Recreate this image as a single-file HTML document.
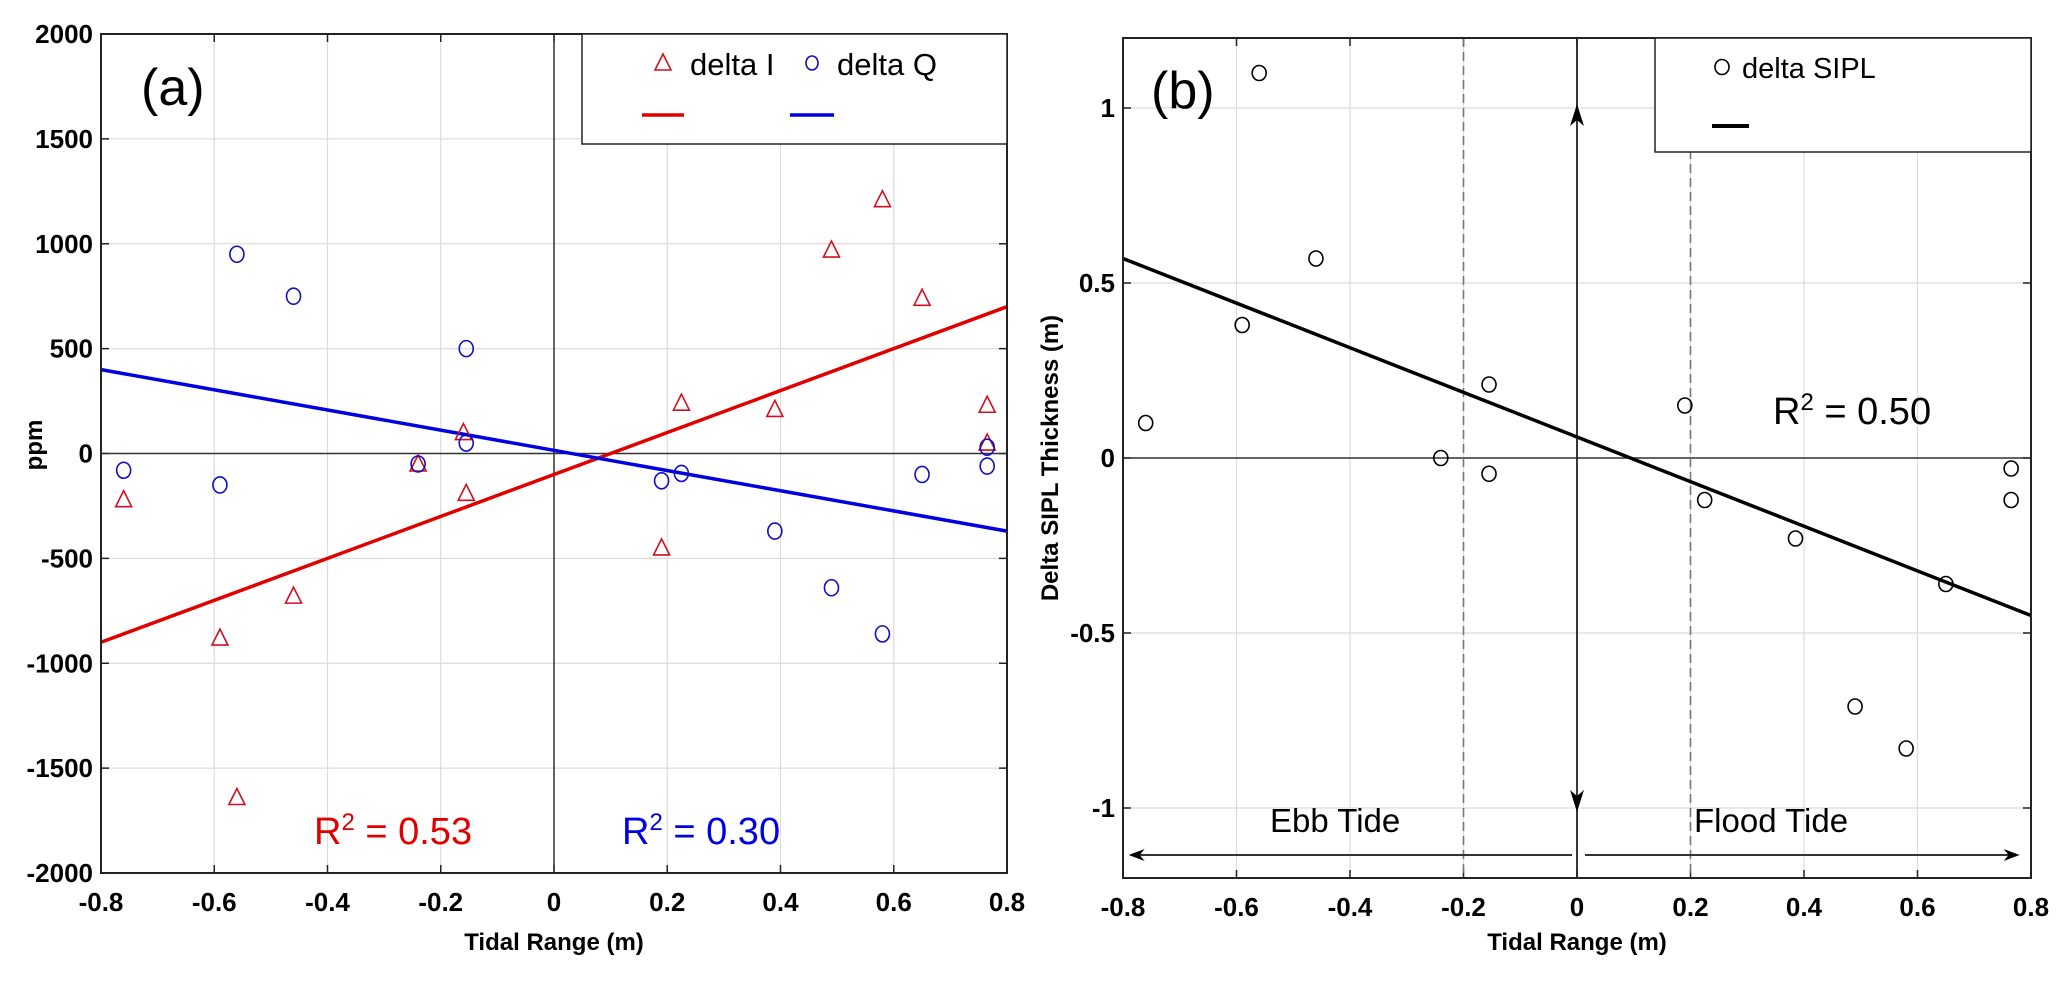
<!DOCTYPE html>
<html><head><meta charset="utf-8"><style>
html,body{margin:0;padding:0;background:#fff;}
svg{display:block;font-family:"Liberation Sans",Arial,sans-serif;}
.tk{font-size:26px;font-weight:bold;fill:#000;}
.al{font-size:24px;font-weight:bold;fill:#000;}
</style></head><body>
<svg id="c" width="2067" height="982" viewBox="0 0 2067 982" xmlns="http://www.w3.org/2000/svg"></svg>
<script>
// ---- data ----
const xTicks = [-0.8,-0.6,-0.4,-0.2,0,0.2,0.4,0.6,0.8];
const xTickLabels = ["-0.8","-0.6","-0.4","-0.2","0","0.2","0.4","0.6","0.8"];
const aYTicks = [-2000,-1500,-1000,-500,0,500,1000,1500,2000];
const bYTicks = [-1,-0.5,0,0.5,1];
const bYTickLabels = ["-1","-0.5","0","0.5","1"];
const tidalX = [-0.76,-0.59,-0.56,-0.46,-0.24,-0.16,-0.155,0.19,0.225,0.39,0.49,0.58,0.65,0.765,0.765];
const deltaI = [-220,-880,-1640,-680,-50,100,-190,-450,240,210,970,1210,740,230,50];
const deltaQX = [-0.76,-0.59,-0.56,-0.46,-0.24,-0.155,-0.155,0.19,0.225,0.39,0.49,0.58,0.65,0.765,0.765];
const deltaQ = [-80,-150,950,750,-50,500,50,-130,-95,-370,-640,-860,-100,30,-60];
const fitIX = [-0.8,0.8]; const fitIY = [-900,700];
const fitQX = [-0.8,0.8]; const fitQY = [400,-370];
const sipX = [-0.76,-0.59,-0.56,-0.46,-0.24,-0.155,-0.155,0.19,0.225,0.385,0.49,0.58,0.65,0.765,0.765];
const sipY = [0.10,0.38,1.10,0.57,0.0,0.21,-0.045,0.15,-0.12,-0.23,-0.71,-0.83,-0.36,-0.03,-0.12];
const fitSX = [-0.8,0.8]; const fitSY = [0.57,-0.45];

const NS="http://www.w3.org/2000/svg";
const svg=document.getElementById('c');
function mk(tag,attrs,parent,text){const e=document.createElementNS(NS,tag);for(const k in attrs)e.setAttribute(k,attrs[k]);if(text!==undefined)e.textContent=text;(parent||svg).appendChild(e);return e;}

// axis functions
const A={l:101,r:1007,t:34,b:873,x0:-0.8,x1:0.8,y0:-2000,y1:2000};
const B={l:1123,r:2031,t:38,b:878,x0:-0.8,x1:0.8,y0:-1.2,y1:1.2};
function sx(P,v){return P.l+(v-P.x0)/(P.x1-P.x0)*(P.r-P.l);}
function sy(P,v){return P.b-(v-P.y0)/(P.y1-P.y0)*(P.b-P.t);}

function frame(P,yt,ytl,name){
  const g=mk('g',{});
  
  
  xTicks.forEach((v,i)=>{const x=sx(P,v);
    const gl=mk('line',{x1:x,y1:P.t,x2:x,y2:P.b,stroke:'#dcdcdc','stroke-width':1.2},g);
    
    mk('line',{x1:x,y1:P.b,x2:x,y2:P.b-8,stroke:'#222','stroke-width':1.5},g);
    mk('line',{x1:x,y1:P.t,x2:x,y2:P.t+8,stroke:'#222','stroke-width':1.5},g);
    const t=mk('text',{x:x,y:P.b+38,'text-anchor':'middle',class:'tk'},g,xTickLabels[i]);
    
  });
  yt.forEach((v,i)=>{const y=sy(P,v);
    const gl=mk('line',{x1:P.l,y1:y,x2:P.r,y2:y,stroke:'#dcdcdc','stroke-width':1.2},g);
    
    mk('line',{x1:P.l,y1:y,x2:P.l+8,y2:y,stroke:'#222','stroke-width':1.5},g);
    mk('line',{x1:P.r,y1:y,x2:P.r-8,y2:y,stroke:'#222','stroke-width':1.5},g);
    const t=mk('text',{x:P.l-8,y:y+9,'text-anchor':'end',class:'tk'},g,ytl[i]);
    
  });
  return g;
}
function border(P,name){const r=mk('rect',{x:P.l,y:P.t,width:P.r-P.l,height:P.b-P.t,fill:'none',stroke:'#222','stroke-width':2});
  }

// ---------- Panel A ----------
frame(A,aYTicks,aYTicks.map(String),'panel-a');
let z=mk('line',{x1:A.l,y1:sy(A,0),x2:A.r,y2:sy(A,0),stroke:'#333','stroke-width':1.5});

z=mk('line',{x1:sx(A,0),y1:A.t,x2:sx(A,0),y2:A.b,stroke:'#333','stroke-width':1.5});

let ln=mk('line',{x1:sx(A,fitIX[0]),y1:sy(A,fitIY[0]),x2:sx(A,fitIX[1]),y2:sy(A,fitIY[1]),stroke:'#e00000','stroke-width':3.5});

ln=mk('line',{x1:sx(A,fitQX[0]),y1:sy(A,fitQY[0]),x2:sx(A,fitQX[1]),y2:sy(A,fitQY[1]),stroke:'#0000e0','stroke-width':3.5});

function tri(x,y,c){return mk('polygon',{points:`${x},${y-9} ${x-8},${y+7} ${x+8},${y+7}`,fill:'none',stroke:c,'stroke-width':1.6});}
tidalX.forEach((v,i)=>{const p=tri(sx(A,v),sy(A,deltaI[i]),'#d01020');
  });
deltaQX.forEach((v,i)=>{const p=mk('ellipse',{cx:sx(A,v),cy:sy(A,deltaQ[i]),rx:7,ry:8,fill:'none',stroke:'#1010c0','stroke-width':1.6});
  });
border(A,'panel-a');
// legend a
let lg=mk('g',{});
mk('rect',{x:582,y:34,width:425,height:110,fill:'#fff',stroke:'#222','stroke-width':1.5},lg);
tri(663,63,'#d01020');
mk('text',{x:690,y:75,'font-size':31,fill:'#000'},lg,'delta I');
mk('ellipse',{cx:812,cy:63,rx:6,ry:7,fill:'none',stroke:'#1010c0','stroke-width':1.6},lg);
mk('text',{x:837,y:75,'font-size':31,fill:'#000'},lg,'delta Q');
mk('line',{x1:642,y1:115,x2:684,y2:115,stroke:'#e00000','stroke-width':3.5},lg);
mk('line',{x1:790,y1:115,x2:834,y2:115,stroke:'#0000e0','stroke-width':3.5},lg);
let t=mk('text',{x:141,y:105,'font-size':52,fill:'#000'},null,'(a)');

t=mk('text',{x:314,y:844,'font-size':38,fill:'#e00000'},null);
t.innerHTML='R<tspan dy="-14" font-size="24">2</tspan><tspan dy="14"> = 0.53</tspan>';

t=mk('text',{x:622,y:844,'font-size':38,fill:'#0000e0'},null);
t.innerHTML='R<tspan dy="-14" font-size="24">2</tspan><tspan dy="14"> = 0.30</tspan>';

t=mk('text',{x:554,y:950,'text-anchor':'middle',class:'al'},null,'Tidal Range (m)');

t=mk('text',{x:0,y:0,'text-anchor':'middle',class:'al',transform:'translate(42,445) rotate(-90)'},null,'ppm');


// ---------- Panel B ----------
frame(B,bYTicks,bYTickLabels,'panel-b');
z=mk('line',{x1:B.l,y1:sy(B,0),x2:B.r,y2:sy(B,0),stroke:'#333','stroke-width':1.5});

[-0.2,0.2].forEach(v=>{const d=mk('line',{x1:sx(B,v),y1:B.t,x2:sx(B,v),y2:B.b,stroke:'#777','stroke-width':1.6,'stroke-dasharray':'9,5'});
  });
const cx0=sx(B,0);
z=mk('line',{x1:cx0,y1:B.t,x2:cx0,y2:B.b,stroke:'#222','stroke-width':1.8});

let yu=sy(B,1), yd=sy(B,-1);
mk('polygon',{points:`${cx0},${yu-4} ${cx0-7},${yu+18} ${cx0},${yu+12} ${cx0+7},${yu+18}`,fill:'#000'});
mk('polygon',{points:`${cx0},${yd+4} ${cx0-7},${yd-18} ${cx0},${yd-12} ${cx0+7},${yd-18}`,fill:'#000'});
const ay=855;
let ar=mk('g',{});
mk('line',{x1:sx(B,-0.78),y1:ay,x2:cx0-5,y2:ay,stroke:'#333','stroke-width':2},ar);
mk('polygon',{points:`${sx(B,-0.79)},${ay} ${sx(B,-0.79)+16},${ay-6} ${sx(B,-0.79)+11},${ay} ${sx(B,-0.79)+16},${ay+6}`,fill:'#000'},ar);
ar=mk('g',{});
mk('line',{x1:cx0+8,y1:ay,x2:sx(B,0.77),y2:ay,stroke:'#333','stroke-width':2},ar);
mk('polygon',{points:`${sx(B,0.78)},${ay} ${sx(B,0.78)-16},${ay-6} ${sx(B,0.78)-11},${ay} ${sx(B,0.78)-16},${ay+6}`,fill:'#000'},ar);
ln=mk('line',{x1:sx(B,fitSX[0]),y1:sy(B,fitSY[0]),x2:sx(B,fitSX[1]),y2:sy(B,fitSY[1]),stroke:'#000','stroke-width':3.5});

sipX.forEach((v,i)=>{const p=mk('ellipse',{cx:sx(B,v),cy:sy(B,sipY[i]),rx:7,ry:7.5,fill:'none',stroke:'#000','stroke-width':1.6});
  });
border(B,'panel-b');
lg=mk('g',{});
mk('rect',{x:1655,y:38,width:376,height:114,fill:'#fff',stroke:'#222','stroke-width':1.5},lg);
mk('ellipse',{cx:1722,cy:67,rx:7,ry:7.5,fill:'none',stroke:'#000','stroke-width':1.6},lg);
mk('text',{x:1742,y:78,'font-size':29,fill:'#000'},lg,'delta SIPL');
mk('line',{x1:1712,y1:126,x2:1749,y2:126,stroke:'#000','stroke-width':4},lg);
t=mk('text',{x:1151,y:108,'font-size':52,fill:'#000'},null,'(b)');

t=mk('text',{x:1773,y:424,'font-size':38,fill:'#000'},null);
t.innerHTML='R<tspan dy="-14" font-size="24">2</tspan><tspan dy="14"> = 0.50</tspan>';

t=mk('text',{x:1270,y:832,'font-size':33,fill:'#000'},null,'Ebb Tide');

t=mk('text',{x:1694,y:832,'font-size':33,fill:'#000'},null,'Flood Tide');

t=mk('text',{x:1577,y:950,'text-anchor':'middle',class:'al'},null,'Tidal Range (m)');

t=mk('text',{x:0,y:0,'text-anchor':'middle',class:'al',transform:'translate(1058,458) rotate(-90)'},null,'Delta SIPL Thickness (m)');

</script>
</body></html>
